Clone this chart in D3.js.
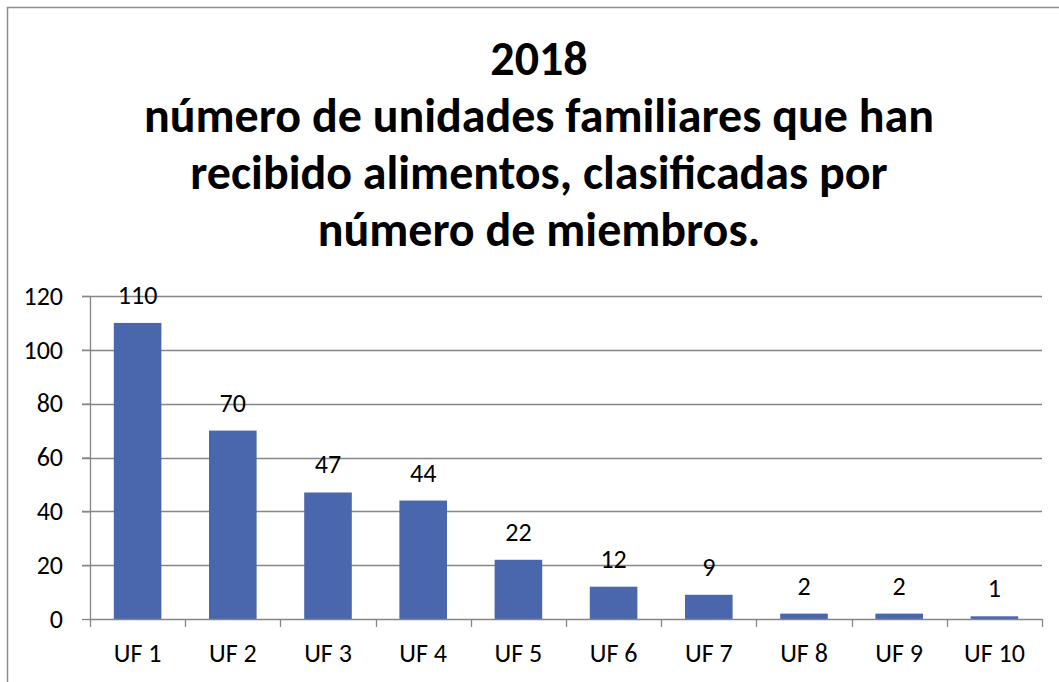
<!DOCTYPE html>
<html>
<head>
<meta charset="utf-8">
<script src="https://cdn.jsdelivr.net/npm/d3@7"></script>
<style>
  html, body { margin: 0; padding: 0; background: #fff; }
  svg { display: block; }
</style>
</head>
<body>
<svg id="chart"></svg>
<script>
// datos del grafico
var categorias = ["UF 1", "UF 2", "UF 3", "UF 4", "UF 5", "UF 6", "UF 7", "UF 8", "UF 9", "UF 10"];
var valores = [110, 70, 47, 44, 22, 12, 9, 2, 2, 1];
var ticksY = [0, 20, 40, 60, 80, 100, 120];
var titulo = [
  "2018",
  "número de unidades familiares que han",
  "recibido alimentos, clasificadas por",
  "número de miembros."
];

var svgWidth = 1059, svgHeight = 682;
var margin = { top: 296, right: 17, bottom: 63, left: 90 };
var width = svgWidth - margin.left - margin.right;
var height = svgHeight - margin.top - margin.bottom;
var fuente = "Carlito, Calibri, Lato, sans-serif";
var gris = "#868686";

var svg = d3.select("#chart")
    .attr("width", svgWidth)
    .attr("height", svgHeight);

// borde del area del grafico
svg.append("rect")
    .attr("x", 7.5)
    .attr("y", 7.5)
    .attr("width", 1070)
    .attr("height", 700)
    .attr("fill", "none")
    .attr("stroke", "#8e8e8e")
    .attr("stroke-width", 1.5);

// titulo
svg.append("g")
    .selectAll("text")
    .data(titulo)
    .enter().append("text")
    .attr("x", 539)
    .attr("y", function(d, i) { return 75 + i * 57; })
    .attr("text-anchor", "middle")
    .attr("font-family", fuente)
    .attr("font-weight", "bold")
    .attr("font-size", 48)
    .attr("fill", "#000")
    .text(function(d) { return d; });

var g = svg.append("g")
    .attr("transform", "translate(" + margin.left + "," + margin.top + ")");

var x = d3.scaleBand()
    .domain(categorias)
    .range([0, width])
    .paddingInner(0.5)
    .paddingOuter(0.25);

var y = d3.scaleLinear()
    .domain([0, 120])
    .range([height, 0]);

// lineas de division
g.append("g")
    .selectAll("line")
    .data(ticksY.filter(function(d) { return d > 0; }))
    .enter().append("line")
    .attr("x1", -8)
    .attr("x2", width)
    .attr("y1", function(d) { return Math.round(y(d)) + 0.5; })
    .attr("y2", function(d) { return Math.round(y(d)) + 0.5; })
    .attr("stroke", gris)
    .attr("stroke-width", 1.3);

// barras
g.append("g")
    .selectAll("rect")
    .data(valores)
    .enter().append("rect")
    .attr("x", function(d, i) { return x(categorias[i]); })
    .attr("y", function(d) { return y(d); })
    .attr("width", x.bandwidth())
    .attr("height", function(d) { return height - y(d); })
    .attr("fill", "#4a66ac");

// etiquetas de valores
g.append("g")
    .selectAll("text")
    .data(valores)
    .enter().append("text")
    .attr("x", function(d, i) { return x(categorias[i]) + x.bandwidth() / 2; })
    .attr("y", function(d) { return y(d) - 19; })
    .attr("text-anchor", "middle")
    .attr("font-family", fuente)
    .attr("font-size", 26)
    .attr("fill", "#000")
    .text(function(d) { return d; });

// eje Y
var ejeY = g.append("g")
    .call(d3.axisLeft(y).tickValues(ticksY).tickSize(8).tickPadding(19));
ejeY.select(".domain").attr("stroke", gris).attr("stroke-width", 1.3).attr("d", "M0.5,0V" + height);
ejeY.selectAll(".tick line").attr("stroke", gris).attr("stroke-width", 1.3);
ejeY.selectAll(".tick text")
    .attr("font-family", fuente)
    .attr("font-size", 26)
    .attr("fill", "#000");

// eje X, marcas entre categorias
var ejeX = g.append("g")
    .attr("transform", "translate(0," + height + ")");
ejeX.append("line")
    .attr("x1", 0)
    .attr("x2", width)
    .attr("y1", 0.5)
    .attr("y2", 0.5)
    .attr("stroke", gris)
    .attr("stroke-width", 1.3);
var paso = x.step();
var bordes = d3.range(categorias.length + 1).map(function(i) { return i * paso; });
ejeX.selectAll(".marca")
    .data(bordes)
    .enter().append("line")
    .attr("class", "marca")
    .attr("x1", function(d) { return Math.round(d) + 0.5; })
    .attr("x2", function(d) { return Math.round(d) + 0.5; })
    .attr("y1", 0)
    .attr("y2", 8)
    .attr("stroke", gris)
    .attr("stroke-width", 1.3);
ejeX.selectAll(".etiqueta")
    .data(categorias)
    .enter().append("text")
    .attr("class", "etiqueta")
    .attr("x", function(d) { return x(d) + x.bandwidth() / 2; })
    .attr("y", 43)
    .attr("text-anchor", "middle")
    .attr("font-family", fuente)
    .attr("font-size", 26)
    .attr("fill", "#000")
    .text(function(d) { return d; });
</script>
</body>
</html>
